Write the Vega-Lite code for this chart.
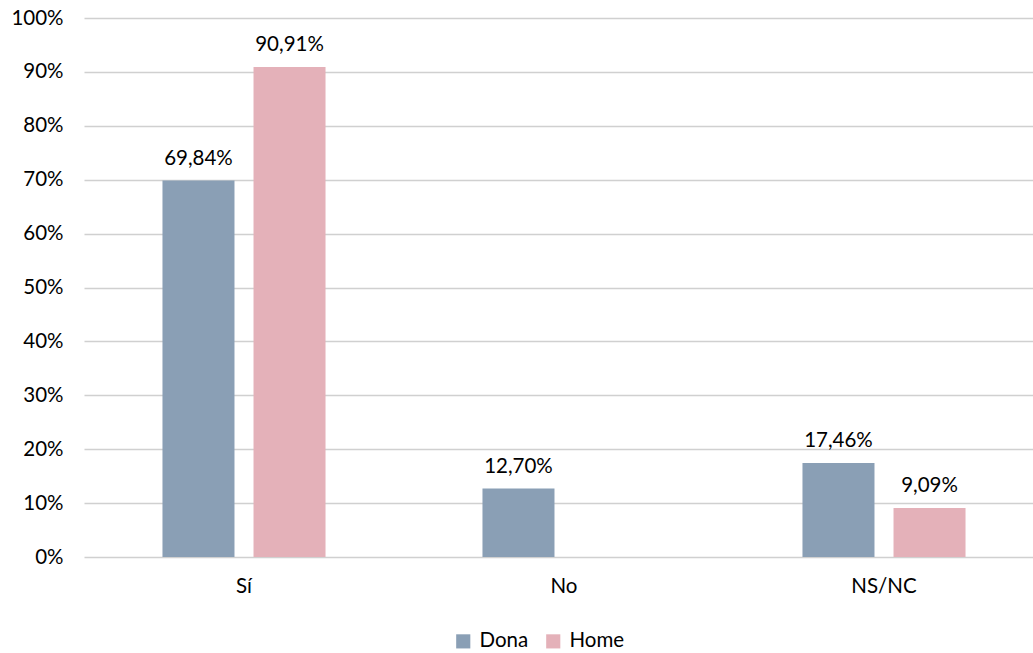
{
  "$schema": "https://vega.github.io/schema/vega-lite/v6.json",
  "width": 949,
  "height": 539,
  "autosize": {"type": "none"},
  "padding": {"left": 84, "top": 18, "right": 0, "bottom": 96},
  "config": {
    "font": "Lato",
    "view": {"stroke": null},
    "locale": {"number": {"decimal": ",", "thousands": ".", "grouping": [3], "currency": ["", " €"]}}
  },
  "data": {
    "values": [
      {"cat": "Sí", "sexe": "Dona", "valor": 0.6984},
      {"cat": "Sí", "sexe": "Home", "valor": 0.9091},
      {"cat": "No", "sexe": "Dona", "valor": 0.1270},
      {"cat": "No", "sexe": "Home", "valor": 0},
      {"cat": "NS/NC", "sexe": "Dona", "valor": 0.1746},
      {"cat": "NS/NC", "sexe": "Home", "valor": 0.0909}
    ]
  },
  "encoding": {
    "x": {
      "field": "cat", "type": "nominal", "sort": ["Sí", "No", "NS/NC"],
      "scale": {"range": [0, 960], "paddingInner": 0.431, "paddingOuter": 0.2155},
      "axis": {"title": null, "labelAngle": 0, "domain": false, "ticks": false, "labelFontSize": 20.5, "labelColor": "#000000", "labelPadding": 19}
    },
    "xOffset": {
      "field": "sexe", "type": "nominal", "sort": ["Dona", "Home"],
      "scale": {"paddingInner": 0.209, "paddingOuter": 0.1045}
    },
    "y": {
      "field": "valor", "type": "quantitative",
      "scale": {"domain": [0, 1], "nice": false},
      "axis": {"title": null, "format": ".0%", "values": [0, 0.1, 0.2, 0.3, 0.4, 0.5, 0.6, 0.7, 0.8, 0.9, 1], "domain": false, "ticks": false, "labelFontSize": 20.5, "labelColor": "#000000", "labelPadding": 21, "gridColor": "#D0D0D0", "gridWidth": 1.3}
    }
  },
  "layer": [
    {
      "mark": {"type": "bar"},
      "encoding": {
        "color": {
          "field": "sexe", "type": "nominal", "sort": ["Dona", "Home"],
          "scale": {"domain": ["Dona", "Home"], "range": ["#8A9FB5", "#E4B1B9"]},
          "legend": {
            "title": null, "orient": "none", "legendX": 369, "legendY": 613,
            "direction": "horizontal", "symbolType": "square", "symbolSize": 200,
            "symbolStrokeWidth": 0, "labelFontSize": 20.5, "labelColor": "#000000",
            "columnPadding": 14, "labelOffset": 6
          }
        }
      }
    },
    {
      "transform": [{"filter": "datum.valor > 0"}],
      "mark": {"type": "text", "baseline": "bottom", "dy": -12, "fontSize": 20.5, "color": "#000000"},
      "encoding": {
        "text": {"field": "valor", "type": "quantitative", "format": ".2%"}
      }
    }
  ]
}
